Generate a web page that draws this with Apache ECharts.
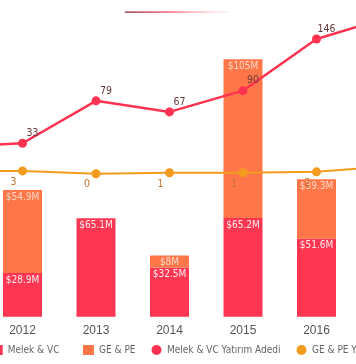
<!DOCTYPE html>
<html>
<head>
<meta charset="utf-8">
<script src="https://cdn.jsdelivr.net/npm/echarts@6/dist/echarts.min.js"></script>
<style>
html,body{margin:0;padding:0;background:#fff;overflow:hidden;width:356px;height:364px;}
#c{position:absolute;left:-122px;top:0;width:600px;height:364px;}
</style>
</head>
<body>
<div id="c"></div>
<script>
// Data
var years = ['2011', '2012', '2013', '2014', '2015', '2016', '2017'];
var melekVC = [null, 28.9, 65.1, 32.5, 65.2, 51.6, null];        // $M
var gePE = [null, 54.9, null, 8, 105, 39.3, null];                // $M
var melekVCCount = [29, 33, 79, 67, 90, 146, 170];
var gePECount = [3, 3, 0, 1, 1, 2, 8];
var seriesNames = ['Melek & VC', 'GE & PE', 'Melek & VC Yatırım Adedi', 'GE & PE Yatırım Adedi'];

var OX = 122; // horizontal shift of the wide canvas

// pick a regular-weight narrow sans family if installed, and sizes matching the reference text widths
var mctx = document.createElement('canvas').getContext('2d');
function tw(font, text) { mctx.font = font; return mctx.measureText(text).width; }
function installed(fam) {
  var s = 'abcdefMWxyz0123456789&';
  return tw('40px "' + fam + '", monospace', s) !== tw('40px monospace', s) ||
         tw('40px "' + fam + '", serif', s) !== tw('40px serif', s);
}
var cands = ['Liberation Sans Narrow', 'DejaVu Sans Condensed', 'Roboto Condensed', 'Noto Sans Condensed'];
var best = 'Liberation Sans';
for (var i = 0; i < cands.length; i++) { if (installed(cands[i])) { best = cands[i]; break; } }
var NARROW = '"' + best + '", "Liberation Sans", Arial, sans-serif';
function sizeFor(text, target) { return Math.min(12.5, 100 * target / tw('100px ' + NARROW, text)); }
var legendSize = Math.max(10, sizeFor('Melek & VC', 50));
var barLabelSize = Math.max(10, sizeFor('$65.1M', 32.7));
var lineLabelSize = Math.max(10.5, sizeFor('146', 15));

var RED = '#ff3651', ORANGE = '#ff7749', LRED = '#ff3350', LORANGE = '#f39b1c';

var chart = echarts.init(document.getElementById('c'), null, {renderer: 'canvas'});

function legendItem(name, left, icon) {
  return {
    data: [name], left: left, top: 345, padding: 0, itemGap: 0,
    itemWidth: 11, itemHeight: 10, icon: icon,
    textStyle: {fontSize: legendSize, fontFamily: NARROW, fontWeight: 'normal', color: '#666'}
  };
}

var barLabel = {
  show: true, position: 'insideTop', distance: 2,
  color: 'rgba(255,255,255,0.9)', fontSize: barLabelSize, fontFamily: NARROW, fontWeight: 'normal',
  formatter: function (p) { return '$' + p.value + 'M'; }
};

chart.setOption({
  animation: false,
  backgroundColor: '#fff',
  graphic: [{
    type: 'rect',
    shape: {x: 125 + OX, y: 11.2, width: 104, height: 1.7},
    style: {
      fill: new echarts.graphic.LinearGradient(0, 0, 1, 0, [
        {offset: 0, color: '#a8596a'},
        {offset: 0.45, color: '#ff7e8c'},
        {offset: 1, color: 'rgba(255,190,200,0.15)'}
      ])
    }
  }],
  legend: [
    legendItem(seriesNames[0], -8.3 + OX, 'rect'),
    legendItem(seriesNames[1], 83 + OX, 'rect'),
    legendItem(seriesNames[2], 151.5 + OX, 'circle'),
    legendItem(seriesNames[3], 296.5 + OX, 'circle')
  ],
  grid: {left: 34.25, right: 51.25, top: 14.1, bottom: 47.3},
  xAxis: {
    type: 'category', data: years, boundaryGap: true,
    axisLine: {show: false}, axisTick: {show: false}, splitLine: {show: false},
    axisLabel: {color: '#555', fontSize: 12, fontFamily: '"Liberation Sans", Arial, sans-serif', margin: 8}
  },
  yAxis: [
    {type: 'value', min: 0, max: 200, show: false, splitLine: {show: false}},
    {type: 'value', min: -155, max: 173, show: false, splitLine: {show: false}}
  ],
  series: [
    {
      name: seriesNames[0], type: 'bar', stack: 'total', barWidth: 39,
      itemStyle: {color: RED}, label: barLabel, data: melekVC, z: 2
    },
    {
      name: seriesNames[1], type: 'bar', stack: 'total', barWidth: 39,
      itemStyle: {color: ORANGE},
      label: Object.assign({}, barLabel, {color: 'rgba(255,235,225,0.82)'}), data: gePE, z: 2
    },
    {
      name: seriesNames[2], type: 'line', yAxisIndex: 1, data: melekVCCount,
      symbol: 'circle', symbolSize: 9, z: 5,
      lineStyle: {color: LRED, width: 2.5}, itemStyle: {color: LRED},
      label: {show: true, position: 'top', offset: [10, 5], color: '#6a3a3e', fontSize: lineLabelSize, fontFamily: NARROW, fontWeight: 'normal'}
    },
    {
      name: seriesNames[3], type: 'line', yAxisIndex: 1, data: gePECount,
      symbol: 'circle', symbolSize: 9, z: 4,
      lineStyle: {color: LORANGE, width: 2}, itemStyle: {color: LORANGE},
      label: {show: true, position: 'bottom', offset: [-9, -4], color: '#c0742e', fontSize: lineLabelSize, fontFamily: NARROW, fontWeight: 'normal'}
    }
  ]
});
</script>
</body>
</html>
